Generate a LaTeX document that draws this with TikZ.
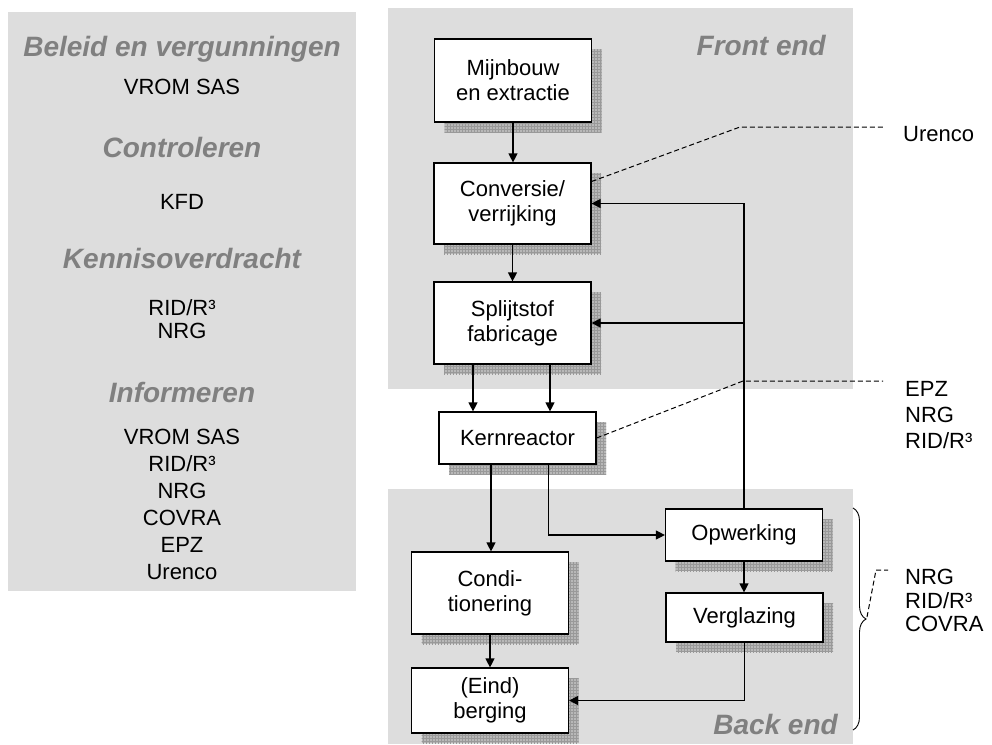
\documentclass[tikz,border=0pt]{standalone}
\usepackage{fontspec}
\setmainfont{Liberation Sans}
\usetikzlibrary{positioning,shadows,arrows.meta,patterns,decorations.pathreplacing}
\definecolor{paneel}{HTML}{DDDDDD}
\definecolor{kopgrijs}{HTML}{808080}
\definecolor{schaduw}{HTML}{B8B8B8}

\begin{document}
\begin{tikzpicture}[x=1pt,y=-1pt,
  stap/.style={draw=black, line width=1.2pt, fill=white, align=center, inner sep=0pt,
    minimum width=157pt, font=\fontsize{22}{25}\selectfont,
    general shadow={shadow xshift=10pt, shadow yshift=-10pt, fill=schaduw},
    general shadow={shadow xshift=10pt, shadow yshift=-10pt, pattern=grid, pattern color=gray!80}},
  pijl/.style={-{Triangle[length=9pt,width=9pt]}, line width=1.2pt},
  stippel/.style={dash pattern=on 5pt off 3pt, line width=1pt},
  kop/.style={font=\fontsize{28}{30}\selectfont\bfseries\itshape, text=kopgrijs, inner sep=0pt, anchor=base},
  tekst/.style={font=\fontsize{22}{26}\selectfont, align=center, inner sep=0pt, anchor=base}]
\useasboundingbox (0,0) rectangle (992,744);

% panelen
\fill[paneel] (8,12) rectangle (356,591);
\fill[paneel] (388,8) rectangle (853,389);
\fill[paneel] (388,489) rectangle (853,744);

% linker paneel
\node[kop] (beleid) at (182,56) {Beleid en vergunningen};
\node[tekst] (vrom) at (182,94) {VROM SAS};
\node[kop] (controle) at (182,157) {Controleren};
\node[tekst] (kfd) at (182,209) {KFD};
\node[kop] (kennis) at (182,268) {Kennisoverdracht};
\node[tekst, anchor=north, font=\fontsize{22}{23}\selectfont] (kennislijst) at (182,299) {RID/R³\\NRG};
\node[kop] (informeren) at (182,402) {Informeren};
\node[tekst, anchor=north, font=\fontsize{22}{27}\selectfont] (infolijst) at (182,429)
  {VROM SAS\\RID/R³\\NRG\\COVRA\\EPZ\\Urenco};

\node[kop, anchor=base east] (frontend) at (826,55) {Front end};
\node[kop, anchor=base east] (backend) at (838,734) {Back end};

% stappen
\node[stap, minimum height=83pt] (mijn) at (513,80.5) {Mijnbouw\\en extractie};
\node[stap, minimum height=81pt] (conv) at (512.5,203.5) {Conversie/\\verrijking};
\node[stap, minimum height=82pt] (splijt) at (512.5,323) {Splijtstof\\fabricage};
\node[stap, minimum height=52pt] (kern) at (517.5,438) {Kernreactor};
\node[stap, minimum height=52pt] (opw) at (744,535) {Opwerking};
\node[stap, minimum height=49pt] (vergl) at (744.5,617.5) {Verglazing};
\node[stap, minimum height=82pt] (cond) at (490,593) {Condi-\\tionering};
\node[stap, minimum height=65pt] (berg) at (490,700.5) {(Eind)\\berging};

% stroom
\draw[pijl] (mijn.south) -- (mijn.south |- conv.north);
\draw[pijl] (conv.south) -- (splijt.north);
\draw[pijl] ([xshift=-39.5pt]splijt.south) -- ([xshift=-39.5pt]splijt.south |- kern.north);
\draw[pijl] ([xshift=37.5pt]splijt.south) -- ([xshift=37.5pt]splijt.south |- kern.north);
\draw[pijl] ([xshift=-26.5pt]kern.south) -- ([xshift=-26.5pt]kern.south |- cond.north);
\draw[pijl] ([xshift=31pt]kern.south) |- (opw.west);
\draw[pijl] (opw.north) |- (conv.east);
\draw[pijl] (opw.north |- splijt.east) -- (splijt.east);
\draw[pijl] (opw.south) -- (opw.south |- vergl.north);
\draw[pijl] (vergl.south) |- (berg.east);
\draw[pijl] (cond.south) -- (berg.north);

% verwijzingen
\coordinate (urencoknik) at (740,127);
\coordinate (urencoeind) at (883,127);
\draw[stippel] ([yshift=22pt]conv.east) -- (urencoknik) -- (urencoeind);
\node[tekst, anchor=west] (urenco) at (903,134) {Urenco};

\coordinate (kernknik) at (743,381);
\coordinate (kerneind) at (883,381);
\draw[stippel] (kern.east) -- (kernknik) -- (kerneind);
\node[tekst, anchor=north west, align=left] (kernlijst) at (905,381) {EPZ\\NRG\\RID/R³};

\coordinate (accolbegin) at (853,508);
\coordinate (accoleind) at (853,730);
\draw[line width=0.9pt, decorate, decoration={brace, amplitude=13pt}] (accolbegin) -- (accoleind);
\coordinate (accolpunt) at (867,617);
\coordinate (backknik) at (876,570);
\coordinate (backeind) at (888,570);
\draw[stippel] (accolpunt) -- (backknik) -- (backeind);
\node[tekst, anchor=north west, align=left, font=\fontsize{22}{23.5}\selectfont] (backlijst) at (905,569) {NRG\\RID/R³\\COVRA};
\end{tikzpicture}
\end{document}
